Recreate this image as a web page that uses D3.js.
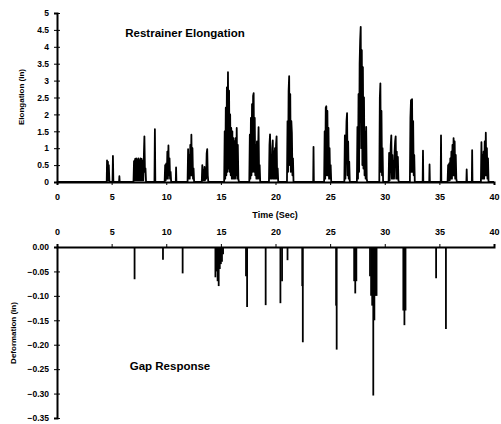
<!DOCTYPE html>
<html lang="en">
<head>
<meta charset="utf-8">
<title>Restrainer Elongation and Gap Response</title>
<script src="https://cdnjs.cloudflare.com/ajax/libs/d3/7.8.5/d3.min.js"></script>
<style>
  body { margin: 0; background: #fff; }
  svg text { font-family: "Liberation Sans", Arial, sans-serif; font-weight: bold; fill: #000; }
  .axis path, .axis line { stroke: #000; }
</style>
</head>
<body>
<div id="chart"></div>
<script>
// time axis ticks (shared)
var timeTicks = [0, 5, 10, 15, 20, 25, 30, 35, 40];

// top panel: restrainer elongation (in) vs time (sec), [time, elongation]
var elongTicks = [0, 0.5, 1, 1.5, 2, 2.5, 3, 3.5, 4, 4.5, 5];
var elongPoints = [
  [0, 0],
  [4.55, 0], [4.58, 0.64], [4.62, 0.05], [4.66, 0.6], [4.7, 0.05], [4.74, 0.5], [4.8, 0],
  [5.08, 0], [5.12, 0.77], [5.16, 0],
  [5.68, 0], [5.71, 0.17], [5.74, 0],
  [7.0, 0], [7.05, 0.62], [7.1, 0.05], [7.15, 0.68], [7.2, 0.05], [7.25, 0.7], [7.3, 0.05], [7.35, 0.66],
  [7.4, 0.05], [7.45, 0.7], [7.5, 0.05], [7.55, 0.64], [7.6, 0.05], [7.65, 0.7], [7.7, 0.05], [7.75, 0.68],
  [7.8, 0.05], [7.85, 0.62], [7.9, 0.05], [7.96, 0.9], [8.0, 1.35], [8.05, 0.3], [8.1, 0.4], [8.15, 0],
  [8.92, 0], [8.96, 1.56], [9.0, 0],
  [9.85, 0], [9.9, 0.5], [9.95, 0.05], [10.0, 0.55], [10.05, 0.1], [10.1, 0.9], [10.15, 0.1], [10.2, 1.08],
  [10.25, 0.2], [10.3, 0.7], [10.35, 0.1], [10.4, 0.3], [10.45, 0],
  [10.87, 0], [10.9, 0.43], [10.93, 0],
  [11.95, 0], [12.0, 0.97], [12.05, 0.1], [12.1, 0.8], [12.15, 0.1], [12.2, 1.1], [12.25, 0.2], [12.3, 1.4],
  [12.35, 0.2], [12.4, 1.0], [12.45, 0.1], [12.5, 0.4], [12.55, 0],
  [13.25, 0], [13.3, 0.5], [13.35, 0.05], [13.4, 0.35], [13.45, 0.05], [13.5, 0.45], [13.55, 0.05], [13.6, 0.3],
  [13.65, 0.1], [13.7, 0.85], [13.75, 0.97], [13.8, 0.2], [13.85, 0],
  [15.3, 0], [15.35, 1.5], [15.4, 0.1], [15.45, 2.2], [15.5, 0.2], [15.55, 2.8], [15.6, 0.3], [15.65, 3.25],
  [15.7, 0.4], [15.75, 2.7], [15.8, 0.3], [15.85, 2.0], [15.9, 0.2], [15.95, 1.6], [16.0, 0.1], [16.05, 1.5],
  [16.1, 0.1], [16.15, 1.3], [16.2, 0.1], [16.25, 1.2], [16.3, 0.1], [16.35, 1.3], [16.4, 0.2], [16.45, 1.6],
  [16.5, 0.1], [16.55, 1.1], [16.6, 0.1], [16.65, 0],
  [17.6, 0], [17.65, 1.4], [17.7, 0.1], [17.75, 1.9], [17.8, 0.2], [17.85, 2.3], [17.9, 0.3], [17.95, 2.55],
  [18.0, 2.63], [18.05, 0.3], [18.1, 1.9], [18.15, 0.2], [18.2, 1.1], [18.25, 0.1], [18.3, 1.2], [18.35, 0.1],
  [18.4, 0.8], [18.45, 1.62], [18.5, 0.1], [18.55, 0.5], [18.6, 0],
  [19.4, 0], [19.45, 1.1], [19.5, 1.41], [19.55, 0.1], [19.6, 0.8], [19.65, 0.1], [19.7, 1.0], [19.75, 1.23],
  [19.8, 0.1], [19.85, 0.9], [19.9, 0.1], [19.95, 1.0], [20.0, 0.1], [20.05, 1.1], [20.1, 1.35], [20.15, 0.1],
  [20.2, 0.4], [20.25, 0],
  [21.05, 0], [21.1, 1.8], [21.15, 0.3], [21.2, 2.7], [21.25, 3.13], [21.3, 0.5], [21.35, 2.6], [21.4, 0.3],
  [21.45, 1.8], [21.5, 1.44], [21.55, 0.2], [21.6, 0.7], [21.65, 0],
  [23.45, 0], [23.48, 1.04], [23.51, 0],
  [24.45, 0], [24.5, 1.5], [24.55, 0.1], [24.6, 2.2], [24.65, 2.24], [24.7, 0.2], [24.75, 2.1], [24.8, 0.2],
  [24.85, 1.6], [24.9, 0.1], [24.95, 1.0], [25.0, 0.1], [25.05, 0.5], [25.1, 0],
  [26.3, 0], [26.35, 1.38], [26.4, 0.1], [26.45, 1.0], [26.5, 1.8], [26.55, 2.04], [26.6, 0.2], [26.65, 1.2],
  [26.7, 0.1], [26.75, 0.6], [26.8, 0],
  [27.45, 0], [27.5, 1.63], [27.55, 0.1], [27.6, 2.6], [27.65, 0.3], [27.7, 3.5], [27.75, 4.2], [27.8, 4.59],
  [27.85, 1.0], [27.9, 3.9], [27.95, 0.5], [28.0, 3.4], [28.05, 0.4], [28.1, 2.5], [28.15, 0.2], [28.2, 1.5],
  [28.25, 0.1], [28.3, 1.63], [28.35, 0.1], [28.4, 0],
  [29.5, 0], [29.55, 2.5], [29.6, 2.92], [29.65, 0.3], [29.7, 2.1], [29.75, 0.2], [29.8, 1.0], [29.85, 0],
  [30.35, 0], [30.4, 0.86], [30.45, 0.05], [30.5, 0.5], [30.55, 1.1], [30.6, 1.38], [30.65, 0.1], [30.7, 0.8],
  [30.75, 0.1], [30.8, 0.6], [30.85, 0.1], [30.9, 0.9], [30.95, 1.2], [31.0, 1.35], [31.05, 0.1], [31.1, 0.9],
  [31.15, 0.1], [31.2, 0.74], [31.25, 0.05], [31.3, 0],
  [32.3, 0], [32.35, 1.9], [32.4, 2.42], [32.45, 0.3], [32.5, 2.45], [32.55, 0.3], [32.6, 1.8], [32.65, 0.2],
  [32.7, 0.8], [32.75, 0],
  [33.47, 0], [33.5, 0.93], [33.53, 0],
  [34.07, 0], [34.1, 0.52], [34.13, 0],
  [35.12, 0], [35.15, 1.38], [35.18, 0],
  [35.75, 0], [35.8, 0.5], [35.85, 0.05], [35.9, 0.55], [35.95, 0.05], [36.0, 0.7], [36.05, 0.1], [36.1, 0.9],
  [36.15, 0.1], [36.2, 1.1], [36.25, 0.2], [36.3, 1.3], [36.35, 0.2], [36.4, 1.2], [36.45, 0.1], [36.5, 0.8],
  [36.55, 0.1], [36.6, 0],
  [37.47, 0], [37.5, 0.37], [37.53, 0],
  [37.97, 0], [38.0, 0.94], [38.03, 0],
  [38.8, 0], [38.85, 1.18], [38.9, 0.1], [38.95, 0.8], [39.0, 0.1], [39.05, 0.9], [39.1, 0.1], [39.15, 1.2],
  [39.2, 0.2], [39.25, 1.46], [39.3, 0.2], [39.35, 1.0], [39.4, 0.1], [39.45, 0.7], [39.5, 0],
  [40, 0]
];

// bottom panel: gap deformation (in) vs time (sec)
var gapTicks = [0, -0.05, -0.10, -0.15, -0.20, -0.25, -0.30, -0.35];
var gapTime = [
  7.1, 9.7, 11.5,
  14.5, 14.6, 14.7, 14.8, 14.9, 15.0, 15.1, 15.2,
  17.3, 17.4, 19.1, 20.45, 20.6, 21.1,
  22.45, 22.5, 25.55, 25.6,
  27.2, 27.3, 27.4,
  28.65, 28.75, 28.85, 28.95, 29.05, 29.15, 29.25,
  31.7, 31.8, 31.9, 34.7, 35.6
];
var gapValue = [
  -0.066, -0.026, -0.054,
  -0.062, -0.05, -0.07, -0.08, -0.045, -0.035, -0.03, -0.015,
  -0.06, -0.123, -0.119, -0.115, -0.07, -0.027,
  -0.08, -0.195, -0.12, -0.21,
  -0.07, -0.095, -0.07,
  -0.06, -0.1, -0.12, -0.304, -0.15, -0.1, -0.1,
  -0.13, -0.16, -0.13, -0.064, -0.168
];

var width = 501, height = 424;
var svg = d3.select("#chart").append("svg")
  .attr("width", width)
  .attr("height", height);

var x = d3.scaleLinear().domain([0, 40]).range([57, 494]);
var yTop = d3.scaleLinear().domain([0, 5]).range([182, 13]);
var yBot = d3.scaleLinear().domain([0, -0.35]).range([247, 418]);

// ---- top panel ----
var line = d3.line()
  .x(function(d) { return x(d[0]); })
  .y(function(d) { return yTop(d[1]); });

svg.append("path")
  .datum(elongPoints)
  .attr("d", line)
  .attr("fill", "none")
  .attr("stroke", "#000")
  .attr("stroke-width", 1.8)
  .attr("stroke-linejoin", "round");

var xAxisTop = svg.append("g")
  .attr("class", "axis")
  .attr("transform", "translate(0," + yTop(0) + ")")
  .call(d3.axisBottom(x).tickValues(timeTicks).tickSize(3).tickPadding(9).tickFormat(d3.format("d")));
xAxisTop.select(".domain").attr("stroke-width", 2);
xAxisTop.selectAll("text").attr("font-size", 9);

var yAxisTop = svg.append("g")
  .attr("class", "axis")
  .attr("transform", "translate(" + x(0) + ",0)")
  .call(d3.axisLeft(yTop).tickValues(elongTicks).tickSize(3).tickPadding(5).tickFormat(function(d) { return String(d); }));
yAxisTop.select(".domain").attr("stroke-width", 2);
yAxisTop.selectAll(".tick line").attr("x2", 3).attr("x1", -3);
yAxisTop.selectAll("text").attr("font-size", 8.5);

svg.append("text")
  .attr("x", 185).attr("y", 37)
  .attr("text-anchor", "middle")
  .attr("font-size", 11.5)
  .text("Restrainer Elongation");

svg.append("text")
  .attr("transform", "translate(24,97) rotate(-90)")
  .attr("text-anchor", "middle")
  .attr("font-size", 8)
  .text("Elongation (in)");

svg.append("text")
  .attr("x", 275).attr("y", 218)
  .attr("text-anchor", "middle")
  .attr("font-size", 9)
  .text("Time (Sec)");

// ---- bottom panel ----
svg.selectAll(".gap")
  .data(d3.zip(gapTime, gapValue))
  .enter().append("line")
  .attr("class", "gap")
  .attr("x1", function(d) { return x(d[0]); })
  .attr("x2", function(d) { return x(d[0]); })
  .attr("y1", yBot(0))
  .attr("y2", function(d) { return yBot(d[1]); })
  .attr("stroke", "#000")
  .attr("stroke-width", 1.8);

var xAxisBot = svg.append("g")
  .attr("class", "axis")
  .attr("transform", "translate(0," + yBot(0) + ")")
  .call(d3.axisTop(x).tickValues(timeTicks).tickSize(3).tickPadding(9).tickFormat(d3.format("d")));
xAxisBot.select(".domain").attr("stroke-width", 2);
xAxisBot.selectAll("text").attr("font-size", 9);

var yAxisBot = svg.append("g")
  .attr("class", "axis")
  .attr("transform", "translate(" + x(0) + ",0)")
  .call(d3.axisLeft(yBot).tickValues(gapTicks).tickSize(3).tickPadding(5).tickFormat(d3.format(".2f")));
yAxisBot.select(".domain").attr("stroke-width", 2);
yAxisBot.selectAll(".tick line").attr("x2", 3).attr("x1", -3);
yAxisBot.selectAll("text").attr("font-size", 8.5);

svg.append("text")
  .attr("x", 170).attr("y", 370)
  .attr("text-anchor", "middle")
  .attr("font-size", 11.5)
  .text("Gap Response");

svg.append("text")
  .attr("transform", "translate(16,333) rotate(-90)")
  .attr("text-anchor", "middle")
  .attr("font-size", 8)
  .text("Deformation (in)");
</script>
</body>
</html>
